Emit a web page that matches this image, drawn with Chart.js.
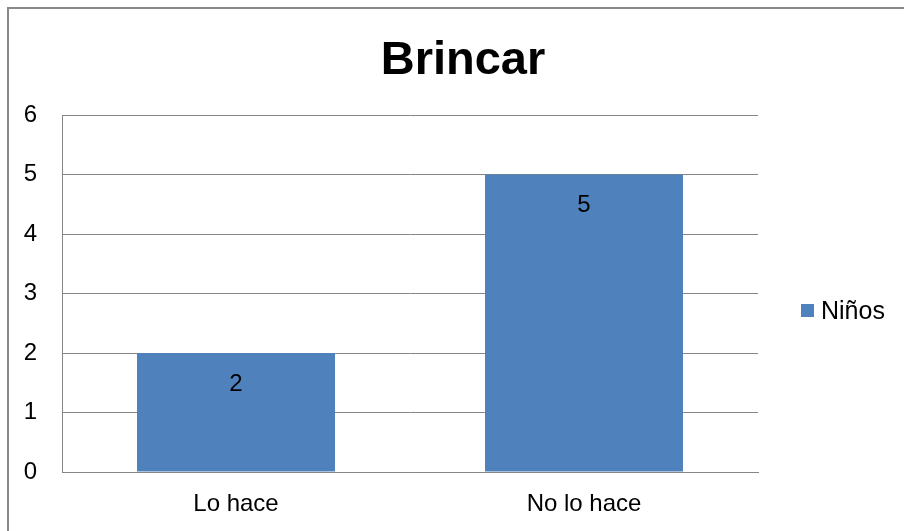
<!DOCTYPE html>
<html>
<head>
<meta charset="utf-8">
<script src="https://cdn.jsdelivr.net/npm/chart.js@4/dist/chart.umd.min.js"></script>
<style>
html,body{margin:0;padding:0;background:#fff;}
canvas{display:block;}
</style>
</head>
<body>
<canvas id="c" width="904" height="531"></canvas>
<script>
const chartTitle = "Brincar";
const categories = ["Lo hace", "No lo hace"];
const seriesName = "Niños";
const seriesValues = [2, 5];
const yMin = 0, yMax = 6, yStep = 1;

const FONT = "'Liberation Sans', Arial, sans-serif";
const BAR_COLOR = "#4F81BD";
const GRID = "#868686";

const decor = {
  id: "decor",
  beforeDraw(chart) {
    const ctx = chart.ctx;
    ctx.save();
    ctx.fillStyle = "#fff";
    ctx.fillRect(0, 0, chart.width, chart.height);
    ctx.strokeStyle = "#898989";
    ctx.lineWidth = 2;
    ctx.strokeRect(8, 8, chart.width + 20, chart.height + 20);
    ctx.restore();
  },
  afterDraw(chart) {
    const ctx = chart.ctx;
    ctx.save();
    // title
    ctx.fillStyle = "#000";
    ctx.font = "bold 47px " + FONT;
    ctx.textAlign = "center";
    ctx.textBaseline = "alphabetic";
    ctx.fillText(chartTitle, 463, 74);
    // data labels
    ctx.font = "24px " + FONT;
    ctx.textBaseline = "middle";
    const meta = chart.getDatasetMeta(0);
    meta.data.forEach((bar, i) => {
      ctx.fillText(String(chart.data.datasets[0].data[i]), bar.x, bar.y + 31);
    });
    // legend
    ctx.fillStyle = BAR_COLOR;
    ctx.fillRect(801, 304, 13, 13);
    ctx.fillStyle = "#000";
    ctx.textAlign = "left";
    ctx.font = "25px " + FONT;
    ctx.fillText(chart.data.datasets[0].label, 821, 312);
    ctx.restore();
  }
};

new Chart(document.getElementById("c"), {
  type: "bar",
  data: {
    labels: categories,
    datasets: [{
      label: seriesName,
      data: seriesValues,
      backgroundColor: BAR_COLOR,
      borderWidth: 0,
      categoryPercentage: 1.0,
      barPercentage: 0.569
    }]
  },
  options: {
    responsive: false,
    animation: false,
    layout: { padding: { left: 0, top: 115, right: 146, bottom: 0 } },
    plugins: {
      legend: { display: false },
      title: { display: false },
      tooltip: { enabled: false }
    },
    scales: {
      x: {
        grid: { display: false, drawTicks: false },
        border: { display: true, color: GRID, width: 1 },
        ticks: { color: "#000", font: { family: FONT, size: 24 }, padding: 18, maxRotation: 0 },
        afterFit(s) { s.height = 59; }
      },
      y: {
        min: yMin, max: yMax,
        grid: { color: GRID, lineWidth: 1, drawTicks: false },
        border: { display: true, color: GRID, width: 1 },
        ticks: { stepSize: yStep, color: "#000", font: { family: FONT, size: 24 }, padding: 25 },
        afterFit(s) { s.width = 62; }
      }
    }
  },
  plugins: [decor]
});
</script>
</body>
</html>
